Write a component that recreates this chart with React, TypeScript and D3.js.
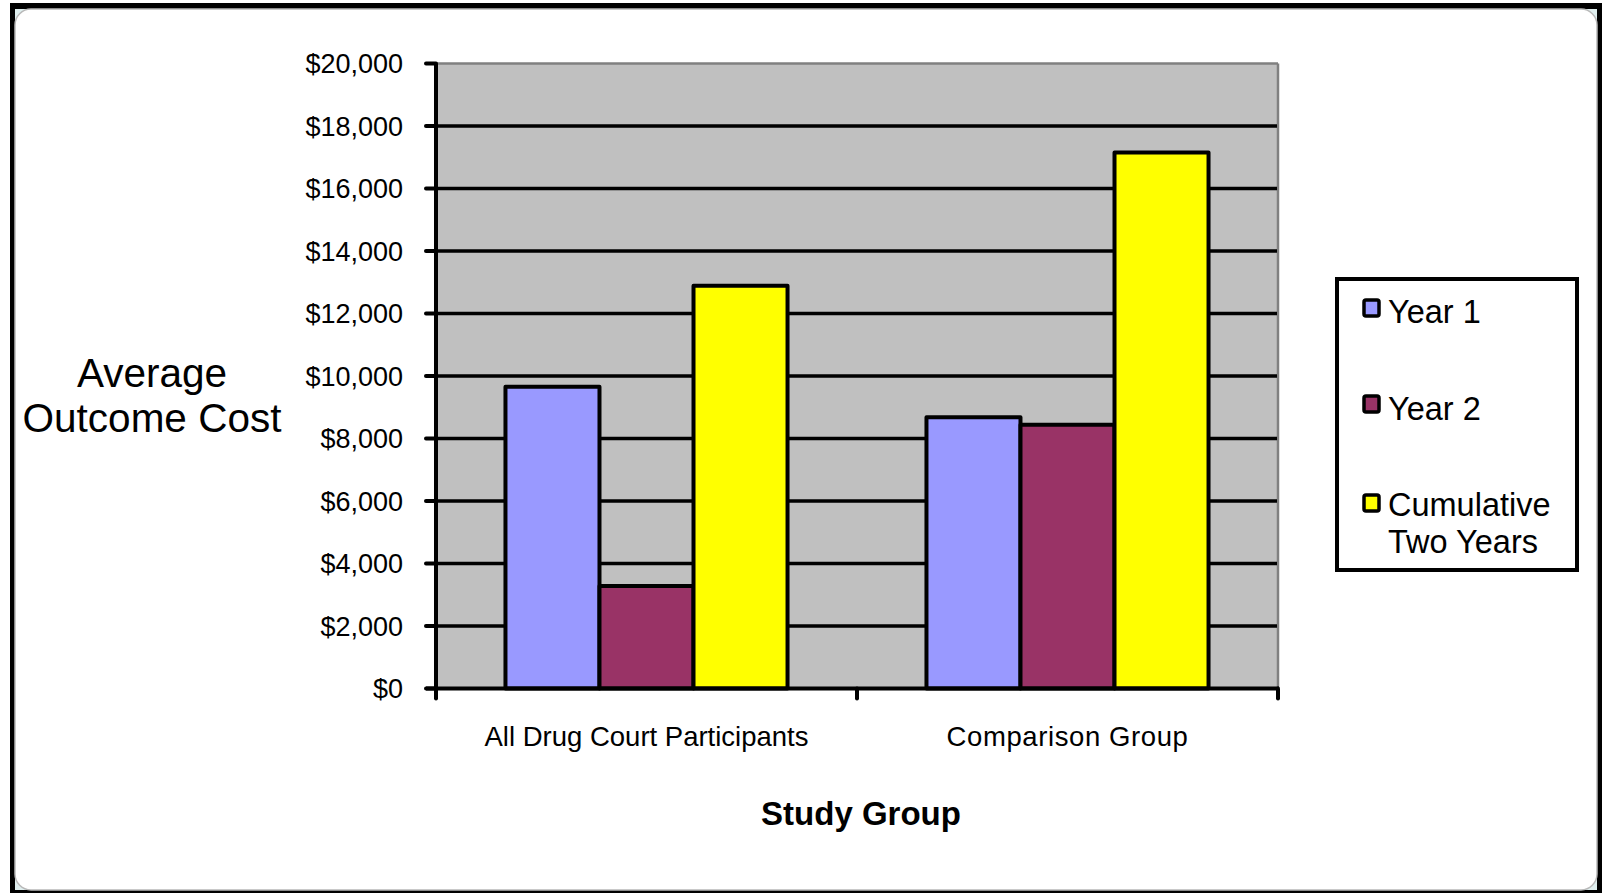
import React from "react";
import * as d3 from "d3";

const categories = ["All Drug Court Participants", "Comparison Group"];
const seriesNames = ["Year 1", "Year 2", "Cumulative Two Years"];
const year1 = [9660, 8680];
const year2 = [3280, 8440];
const cumulative = [12890, 17150];
const yTicks = [0, 2000, 4000, 6000, 8000, 10000, 12000, 14000, 16000, 18000, 20000];
const colors = ["#9999FF", "#993366", "#FFFF00"];

const W = 1602;
const H = 893;
const plotL = 436;
const plotR = 1278;
const plotT = 63.5;
const plotB = 688.5;

export default function App() {
  const values = [year1, year2, cumulative];
  const x0 = d3.scaleBand<string>().domain(categories).range([plotL, plotR]).paddingInner(0.33).paddingOuter(0.165);
  const x1 = d3.scaleBand<string>().domain(seriesNames).range([0, x0.bandwidth()]).padding(0);
  const y = d3.scaleLinear().domain([0, 20000]).range([plotB, plotT]);
  const fmt = (v: number) => "$" + d3.format(",")(v);
  const font = "Arial, 'Liberation Sans', sans-serif";
  const step = x0.step();
  const xTickPositions = [plotL, plotL + step, plotR];

  const legendItems = [
    { lines: ["Year 1"], sy: 300, ty: [323] },
    { lines: ["Year 2"], sy: 396, ty: [420] },
    { lines: ["Cumulative", "Two Years"], sy: 495, ty: [516, 553] },
  ];

  return (
    <svg width={W} height={H} style={{ position: "absolute", left: 0, top: 0, display: "block" }} fontFamily={font}>
      <rect x={0} y={0} width={W} height={H} fill="#ffffff" />
      <rect x={10} y={3} width={W - 10} height={H - 3} fill="#000000" />
      <rect x={15} y={9} width={1582} height={881} fill="#dfeeee" />
      <rect x={15} y={9} width={1582} height={881} rx={16} ry={16} fill="#ffffff" stroke="#b8b8b8" strokeWidth={1.5} />

      {/* plot area */}
      <rect x={plotL} y={plotT} width={plotR - plotL} height={plotB - plotT} fill="#C0C0C0" />
      <line x1={plotL} x2={plotR} y1={plotT} y2={plotT} stroke="#808080" strokeWidth={2.5} />
      <line x1={plotR} x2={plotR} y1={plotT} y2={plotB} stroke="#808080" strokeWidth={2.5} />

      {/* gridlines */}
      {yTicks.filter((t) => t > 0 && t < 20000).map((t) => (
        <line key={"g" + t} x1={plotL} x2={plotR - 1} y1={y(t)} y2={y(t)} stroke="#000" strokeWidth={3.5} />
      ))}

      {/* bars */}
      {categories.map((c, ci) => (
        <g key={c} transform={`translate(${x0(c)},0)`}>
          {seriesNames.map((s, si) => (
            <rect
              key={s}
              x={x1(s)}
              y={y(values[si][ci])}
              width={x1.bandwidth()}
              height={y(0) - y(values[si][ci])}
              fill={colors[si]}
              stroke="#000"
              strokeWidth={4}
              strokeLinejoin="round"
            />
          ))}
        </g>
      ))}

      {/* axes */}
      <line x1={plotL} x2={plotL} y1={plotT} y2={plotB + 2} stroke="#000" strokeWidth={4} />
      <line x1={plotL - 10} x2={plotR + 1} y1={plotB} y2={plotB} stroke="#000" strokeWidth={4} />
      {yTicks.map((t) => (
        <g key={"t" + t}>
          <line x1={plotL - 10} x2={plotL} y1={y(t)} y2={y(t)} stroke="#000" strokeWidth={4} strokeLinecap="round" />
          <text x={403} y={y(t)} dy="0.36em" textAnchor="end" fontSize={27} fill="#000">
            {fmt(t)}
          </text>
        </g>
      ))}
      {xTickPositions.map((px, i) => (
        <line key={"xt" + i} x1={px} x2={px} y1={plotB} y2={plotB + 10} stroke="#000" strokeWidth={4} strokeLinecap="round" />
      ))}
      {categories.map((c, i) => (
        <text
          key={"c" + c}
          x={(x0(c) as number) + x0.bandwidth() / 2}
          y={746}
          textAnchor="middle"
          fontSize={27.5}
          letterSpacing={i === 1 ? 0.6 : 0}
          fill="#000"
        >
          {c}
        </text>
      ))}

      {/* axis titles */}
      <text x={plotL + (plotR - plotL) / 2 + 4} y={825} textAnchor="middle" fontSize={33} fontWeight="bold" fill="#000">
        Study Group
      </text>
      <text textAnchor="middle" fontSize={40.5} fill="#000">
        <tspan x={152} y={387}>Average</tspan>
        <tspan x={152} y={432}>Outcome Cost</tspan>
      </text>

      {/* legend */}
      <rect x={1337} y={279} width={240} height={291} fill="#fff" stroke="#000" strokeWidth={4} />
      {legendItems.map((it, i) => (
        <g key={"l" + i}>
          <rect x={1364} y={it.sy} width={15} height={16} rx={2} fill={colors[i]} stroke="#000" strokeWidth={3.5} />
          {it.lines.map((ln, j) => (
            <text key={j} x={1388} y={it.ty[j]} fontSize={32.5} fill="#000">
              {ln}
            </text>
          ))}
        </g>
      ))}
    </svg>
  );
}
